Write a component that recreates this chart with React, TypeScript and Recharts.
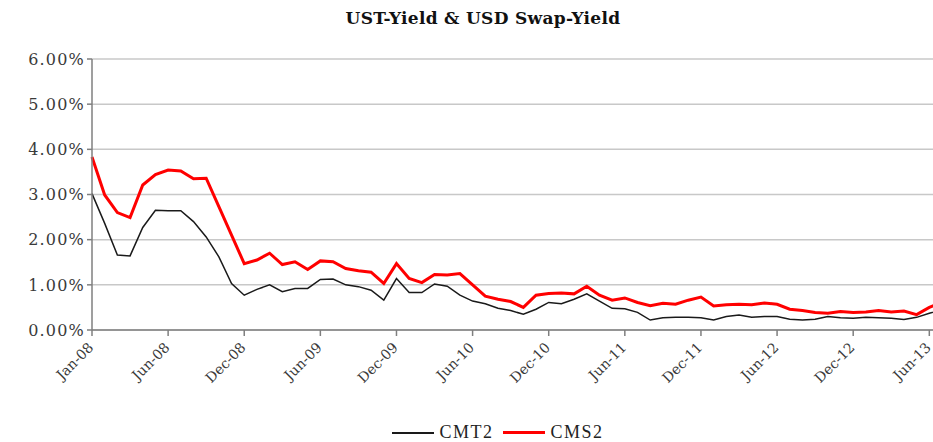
import React from 'react'
import { LineChart, Line, XAxis, YAxis, CartesianGrid, Legend } from 'recharts'

// monthly observations, Jan-08 onward (last one is cut off by the frame)
const CMT2 = [
  3.02, 2.36, 1.66, 1.64, 2.27, 2.65, 2.64, 2.64, 2.40, 2.06, 1.62, 1.03,
  0.77, 0.90, 1.00, 0.85, 0.92, 0.92, 1.12, 1.13, 1.00, 0.96, 0.88, 0.66,
  1.14, 0.83, 0.83, 1.02, 0.97, 0.77, 0.64, 0.58, 0.48, 0.43, 0.35, 0.46,
  0.61, 0.58, 0.68, 0.80, 0.64, 0.48, 0.47, 0.39, 0.22, 0.27, 0.28, 0.28,
  0.27, 0.22, 0.30, 0.33, 0.28, 0.30, 0.30, 0.24, 0.22, 0.24, 0.30, 0.27,
  0.26, 0.28, 0.27, 0.26, 0.23, 0.28, 0.37, 0.45,
]

const CMS2 = [
  3.83, 2.99, 2.60, 2.49, 3.21, 3.44, 3.54, 3.52, 3.35, 3.36, 2.73, 2.10,
  1.47, 1.55, 1.70, 1.45, 1.51, 1.34, 1.53, 1.51, 1.36, 1.31, 1.28, 1.03,
  1.47, 1.14, 1.05, 1.23, 1.22, 1.25, 1.00, 0.75, 0.68, 0.63, 0.50, 0.77,
  0.81, 0.82, 0.80, 0.97, 0.77, 0.66, 0.71, 0.61, 0.54, 0.59, 0.57, 0.66,
  0.73, 0.53, 0.56, 0.57, 0.56, 0.60, 0.57, 0.46, 0.43, 0.39, 0.37, 0.41,
  0.39, 0.40, 0.43, 0.40, 0.42, 0.34, 0.50, 0.62,
]

const TICK_LABELS = [
  'Jan-08', 'Jun-08', 'Dec-08', 'Jun-09', 'Dec-09', 'Jun-10',
  'Dec-10', 'Jun-11', 'Dec-11', 'Jun-12', 'Dec-12', 'Jun-13',
]

const Y_TICKS = [0, 1, 2, 3, 4, 5, 6]

const SERIES = [
  { key: 'CMT2', color: '#1a1a1a', width: 1.5 },
  { key: 'CMS2', color: '#ff0000', width: 3 },
]

const data = CMT2.map((v, i) => ({ idx: i, CMT2: v, CMS2: CMS2[i] }))
const xTicks = TICK_LABELS.map((_, i) => i * 6)

const TEXT = '#3a3a3a'
const AXIS = '#7f7f7f'
const GRID = '#c8c8c8'

const XTick = ({ x, y, payload }: any) => (
  <text
    transform={`translate(${x - 5},${y + 3}) rotate(-45)`}
    textAnchor="end"
    dy="0.75em"
    fontFamily="'DejaVu Serif', serif"
    fontSize={14}
    fill={TEXT}
  >
    {TICK_LABELS[Math.round(payload.value / 6)]}
  </text>
)

const renderLegend = () => (
  <div style={{ display: 'flex', justifyContent: 'center', alignItems: 'center', paddingLeft: 56 }}>
    {SERIES.map((s) => (
      <div key={s.key} style={{ display: 'flex', alignItems: 'center', marginRight: 10 }}>
        <div style={{ width: 42, height: s.width === 3 ? 3 : 2, background: s.color, marginRight: 5 }} />
        <span style={{ fontFamily: "'Liberation Serif', serif", fontSize: 18, letterSpacing: 1.5, color: '#222' }}>
          {s.key}
        </span>
      </div>
    ))}
  </div>
)

export default function App() {
  return (
    <div
      style={{
        position: 'fixed',
        top: 8,
        left: 8,
        width: 925,
        height: 434,
        overflow: 'hidden',
        background: '#fff',
      }}
    >
      <div
        style={{
          position: 'absolute',
          top: 0,
          left: 0,
          width: 950,
          textAlign: 'center',
          fontFamily: "'DejaVu Serif', serif",
          fontWeight: 'bold',
          fontSize: 17,
          color: '#111',
          letterSpacing: 0.3,
        }}
      >
        UST-Yield &amp; USD Swap-Yield
      </div>
      <LineChart width={940} height={434} data={data} margin={{ top: 51, right: 6, left: 0, bottom: 0 }}>
        <CartesianGrid vertical={false} stroke={GRID} strokeWidth={1.5} />
        <XAxis
          type="number"
          dataKey="idx"
          domain={[0, 67]}
          ticks={xTicks}
          interval={0}
          tick={<XTick />}
          tickSize={6}
          height={90}
          stroke={AXIS}
          strokeWidth={1.5}
        />
        <YAxis
          domain={[0, 6]}
          ticks={Y_TICKS}
          interval={0}
          width={84}
          tickSize={5}
          stroke={AXIS}
          strokeWidth={1.5}
          tickFormatter={(v: number) => `${v.toFixed(2)}%`}
          tick={{ fill: TEXT, fontSize: 16, fontFamily: "'DejaVu Serif', serif", letterSpacing: 1.2 }}
        />
        <Legend verticalAlign="bottom" height={22} content={renderLegend} wrapperStyle={{ bottom: -2 }} />
        {SERIES.map((s) => (
          <Line
            key={s.key}
            type="linear"
            dataKey={s.key}
            stroke={s.color}
            strokeWidth={s.width}
            dot={false}
            isAnimationActive={false}
          />
        ))}
      </LineChart>
    </div>
  )
}
